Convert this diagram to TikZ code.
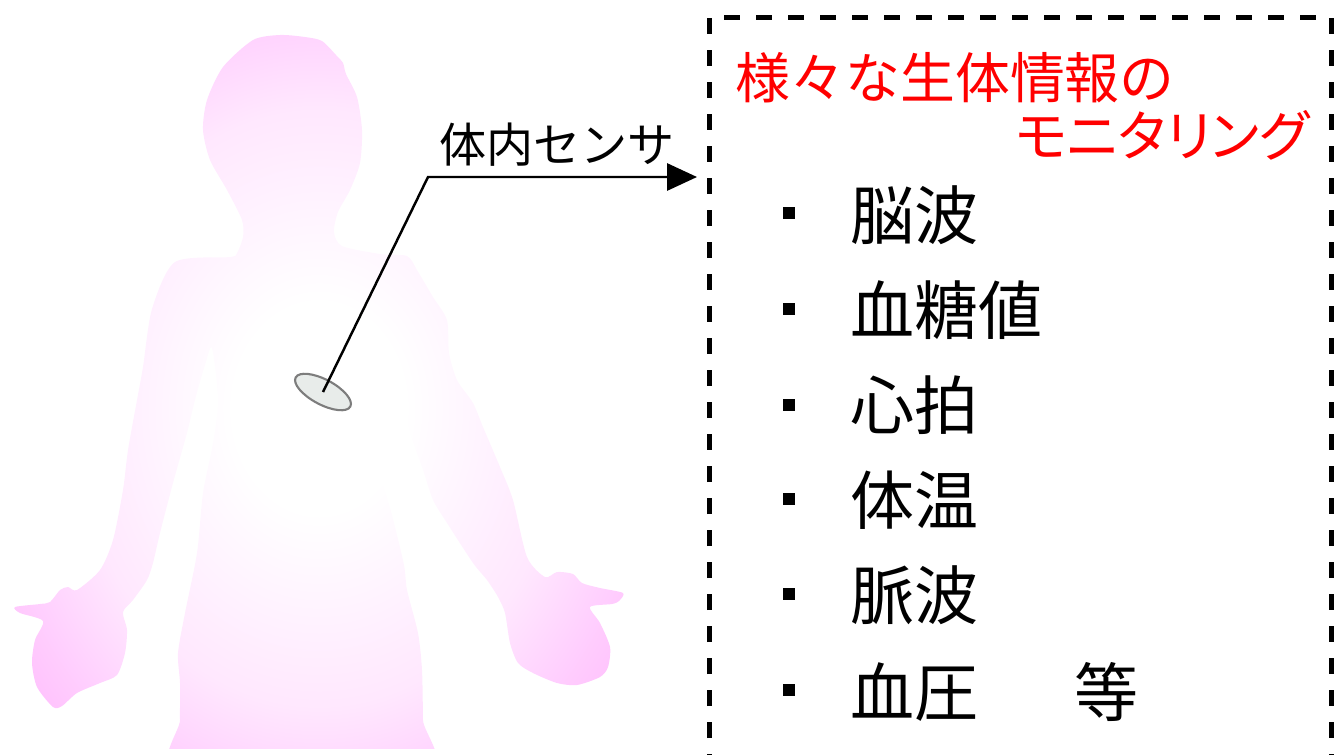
\documentclass[tikz,border=0pt]{standalone}
\usepackage{fontspec}
\setmainfont{Noto Sans CJK JP}
\newfontfamily\kanaprop[RawFeature=+palt]{Noto Sans CJK JP}
\usetikzlibrary{arrows.meta,shapes.geometric}

\definecolor{bodypink}{RGB}{255,188,253}
\definecolor{sensorfill}{RGB}{232,236,234}
\definecolor{sensorline}{RGB}{125,125,125}
\colorlet{pinkhalf}{bodypink!35!white}
\colorlet{pinkmost}{bodypink!75!white}

% white glow on the chest, pink towards head, hands and feet
\pgfdeclareradialshading{bodyglow}{\pgfpoint{0bp}{0bp}}{%
    color(0bp)=(white); color(7bp)=(white); color(20bp)=(pinkhalf);
    color(27bp)=(pinkmost); color(32bp)=(bodypink); color(50bp)=(bodypink)}

\begin{document}
\begin{tikzpicture}[
        x=0.01cm, y=-0.01cm,
        sensor/.style={ellipse, draw=sensorline, line width=0.6pt,
            fill=sensorfill, inner sep=0pt,
            minimum width=17.6pt, minimum height=7.1pt},
        wire/.style={line width=0.7pt, -{Triangle[length=8.5pt,width=7.7pt]}},
        sensortext/.style={inner sep=0pt, font=\fontsize{13.4pt}{16pt}\selectfont},
        redtext/.style={inner sep=0pt, text=red,
            font=\fontsize{15.6pt}{18pt}\selectfont},
        redprop/.style={inner sep=0pt, text=red,
            font=\kanaprop\fontsize{15.6pt}{18pt}\selectfont},
        itemtext/.style={anchor=west, inner sep=0pt,
            font=\fontsize{18.2pt}{20pt}\selectfont},
        bullet/.style={fill=black, inner sep=0pt, minimum size=3.2pt},
        boxline/.style={line width=1.42pt, dash pattern=on 4.55pt off 4.55pt},
        ]

        \useasboundingbox (0,0) rectangle (1334,754);

        % body silhouette
        \begin{scope}
            \clip (0,0) rectangle (1334,748);
            \shade[shading=bodyglow] plot[smooth cycle, tension=0.45] coordinates {
                (280,35) (305,37) (322,41) (336,55) (343,63) (346,74) (357,97)
                (362,130) (360,163) (350,190) (338,212) (334,232) (342,246)
                (380,254) (407,256) (417,270) (433,297) (447,320) (449,353)
                (457,380) (473,403) (483,427) (500,467) (513,500) (527,557)
                (545,577) (557,572) (573,574) (582,583) (600,588) (623,593)
                (619,601) (612,604) (590,607) (600,623) (610,647) (608,667)
                (600,677) (577,685) (557,683) (533,673) (518,663) (510,643)
                (505,613) (498,597) (487,580) (473,563) (447,523) (433,500)
                (423,470) (410,433) (402,400) (384,348) (374,362) (372,400)
                (377,460) (392,515) (404,565) (407,590) (418,633) (422,670)
                (423,720) (424,775) (181,775) (180,720) (180,683) (178,653)
                (185,613) (197,553) (203,493) (213,443) (218,400) (212,348)
                (205,365) (195,400) (187,433) (173,483) (160,533) (153,563)
                (147,580) (133,600) (123,612) (127,630) (125,653) (117,675)
                (100,683) (77,693) (62,706) (53,707) (37,687) (32,663) (35,640)
                (43,621) (20,613) (15,607) (40,604) (50,602) (60,590) (68,587)
                (77,590) (100,570) (113,540) (123,490) (128,450) (137,400)
                (143,367) (152,309) (175,262) (230,257) (237,253) (243,237)
                (242,220) (227,190) (210,160) (203,130) (207,100) (223,67)
                (253,40)};
        \end{scope}

        % sensor and its lead
        \node[sensor, rotate=-28] (sensor) at (323,392) {};
        \coordinate (bend) at (428,177);
        \coordinate (boxin) at (697,177);
        \draw[wire] (sensor.center) -- (bend) -- (boxin);
        \node[sensortext] (sensorname) at (557,145) {体内センサ};

        % monitored data box (runs off the bottom)
        \draw[boxline] (709,770) -- (709,17) -- (1331,17) -- (1331,770);

        \node[redtext, anchor=west] (title) at (735,78) {様々な生体情報の};
        \node[redprop, anchor=east] (subtitle) at (1310,135) {モニタリング};

        \node[bullet] (b1) at (789,213) {};
        \node[itemtext] (eeg) at (850,215) {脳波};
        \node[bullet] (b2) at (789,309) {};
        \node[itemtext] (sugar) at (850,310) {血糖値};
        \node[bullet] (b3) at (789,405) {};
        \node[itemtext] (heart) at (850,405) {心拍};
        \node[bullet] (b4) at (789,499) {};
        \node[itemtext] (temp) at (850,500) {体温};
        \node[bullet] (b5) at (789,594) {};
        \node[itemtext] (pulse) at (850,595) {脈波};
        \node[bullet] (b6) at (789,690) {};
        \node[itemtext] (press) at (850,692) {血圧\hspace{1.5em}等};

    \end{tikzpicture}
\end{document}
